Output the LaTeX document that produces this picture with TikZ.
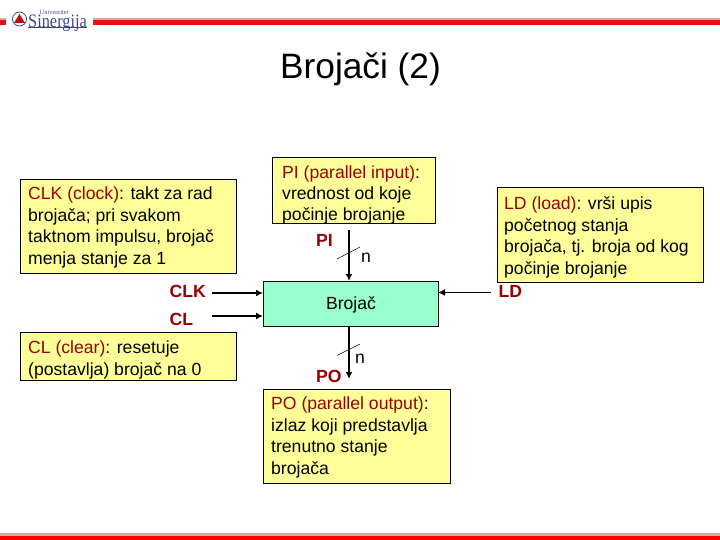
\documentclass[tikz,border=0pt]{standalone}
\usepackage{fontspec}
\usepackage{graphicx}
\setmainfont{Liberation Sans}
\usetikzlibrary{arrows.meta}
\newfontfamily\logoserif{Liberation Serif}
\definecolor{boxy}{HTML}{FFFF99}
\definecolor{boxg}{HTML}{99FFCC}
\definecolor{dred}{HTML}{990000}
\definecolor{logob}{HTML}{3A4A80}
\definecolor{barr}{HTML}{E81010}
\definecolor{barg}{HTML}{D8A8A0}
\tikzset{
 note/.style={draw=black,line width=0.7pt,fill=boxy,anchor=north west,inner sep=0pt},
 notetext/.style={anchor=north west,inner sep=0pt,align=left,font=\fontsize{17.6}{21.7}\selectfont},
 sig/.style={font=\fontsize{17.6}{20}\selectfont\bfseries,text=dred,inner sep=0pt},
 plain/.style={font=\fontsize{17.6}{20}\selectfont,inner sep=0pt},
 wire/.style={line width=1.5pt,-{Latex[length=7pt,width=7pt]}},
 slash/.style={line width=0.5pt}
}
\newcommand{\rd}[1]{\textcolor{dred}{#1}}
\begin{document}
\begin{tikzpicture}[x=1pt,y=-1pt]
\useasboundingbox (0,0) rectangle (720,540);
% header and footer bars
\fill[barg] (0,18) rectangle (6,20);
\fill[barr] (0,20) rectangle (6,25);
\fill[barg] (93,18) rectangle (720,20);
\fill[barr] (93,20) rectangle (720,25);
\fill[barg] (0,533) rectangle (720,535.5);
\fill[red] (0,535.5) rectangle (720,540);
% logo
\draw[logob,fill=white,line width=0.8pt] (19.5,19) circle (7);
\fill[barr!80!black] (19.5,14) -- (25,23) -- (14,23) -- cycle;
\node[anchor=north west,inner sep=0pt,text=logob,align=left,font=\logoserif] (logo) at (28,10.5)
 {\hspace*{11.5pt}\fontsize{6.4}{6}\selectfont Univerzitet\\[-1.5pt]\scalebox{.86}[1]{\fontsize{19}{11}\selectfont Sinergija}};
\fill[logob] (28,27) rectangle (87,27.6);
% title
\node[inner sep=0pt,font=\fontsize{35.3}{40}\selectfont] (title) at (360.5,69) {Brojači (2)};
% notes
\node[note,minimum width=216pt,minimum height=94pt] (nclk) at (20,179) {};
\node[notetext] (tclk) at (28,186.5)
 {\rd{CLK (clock)}: takt za rad\\brojača; pri svakom\\taktnom impulsu, brojač\\menja stanje za 1};
\node[note,minimum width=216pt,minimum height=48pt] (ncl) at (20,332) {};
\node[notetext] (tcl) at (28,340.5)
 {\rd{CL (clear)}: resetuje\\(postavlja) brojač na 0};
\node[note,minimum width=163pt,minimum height=66pt] (npi) at (272,157) {};
\node[notetext,font=\fontsize{17.6}{21}\selectfont] (tpi) at (282,166)
 {\rd{PI (parallel input)}:\\vrednost od koje\\počinje brojanje};
\node[note,minimum width=206pt,minimum height=95pt] (nld) at (497,187) {};
\node[notetext] (tld) at (504,196.5)
 {\rd{LD (load)}: vrši upis\\početnog stanja\\brojača, tj. broja od kog\\počinje brojanje};
\node[note,minimum width=187pt,minimum height=94pt] (npo) at (263,389) {};
\node[notetext] (tpo) at (271,396.5)
 {\rd{PO (parallel output)}:\\izlaz koji predstavlja\\trenutno stanje\\brojača};
% counter
\node[draw=black,line width=0.7pt,fill=boxg,anchor=north west,minimum width=175pt,minimum height=45pt,inner sep=0pt] (cnt) at (263,281) {};
\node[plain] (tcnt) at (351,305) {Brojač};
% signals
\node[sig,anchor=west] (clk) at (169.5,291) {CLK};
\node[sig,anchor=west] (cl) at (169.5,319) {CL};
\node[sig,anchor=west] (ld) at (498.5,291) {LD};
\node[sig,anchor=west] (pi) at (316,240) {PI};
\node[sig,anchor=west] (po) at (316,376) {PO};
\node[plain] (n1) at (366,258) {n};
\node[plain] (n2) at (360,359) {n};
\coordinate (clkS) at (212,293);
\coordinate (clE) at (263,293);
\coordinate (clS) at (212,316);
\coordinate (clE2) at (263,316);
\coordinate (ldS) at (491,292.5);
\coordinate (ldE) at (438,292.5);
\coordinate (piS) at (349,230);
\coordinate (piE) at (349,281);
\coordinate (poS) at (349,326);
\coordinate (poE) at (349,379);
\draw[wire] (clkS) -- (clE);
\draw[wire] (clS) -- (clE2);
\draw[wire] (ldS) -- (ldE);
\draw[wire] (piS) -- (piE);
\draw[wire] (poS) -- (poE);
\coordinate (s1a) at (337,259); \coordinate (s1b) at (360,247);
\coordinate (s2a) at (337,355.5); \coordinate (s2b) at (360,344);
\draw[slash] (s1a) -- (s1b);
\draw[slash] (s2a) -- (s2b);
\end{tikzpicture}
\end{document}
